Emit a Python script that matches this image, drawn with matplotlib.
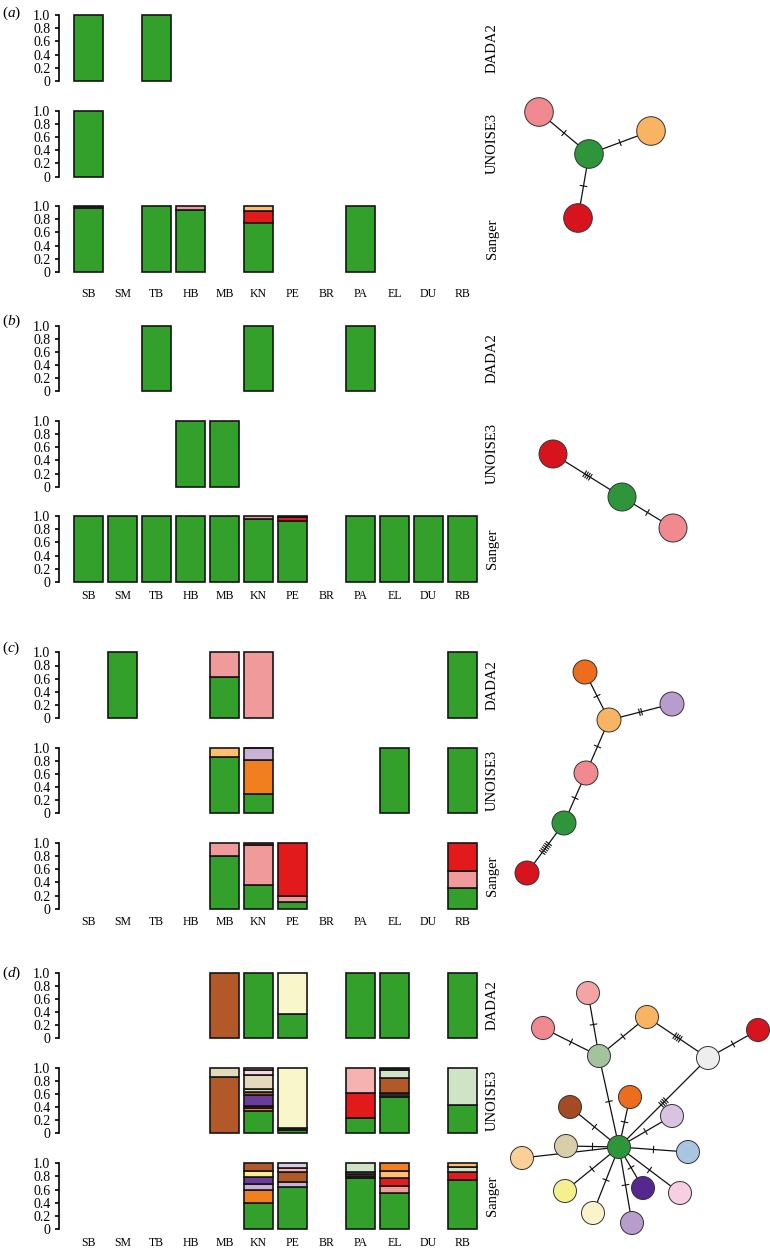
import numpy as np
import matplotlib
matplotlib.use('Agg')
import matplotlib.pyplot as plt
from matplotlib.patches import Circle

plt.rcParams['font.family'] = ['Liberation Serif', 'DejaVu Serif']
plt.rcParams['mathtext.fontset'] = 'custom'
plt.rcParams['mathtext.rm'] = 'Liberation Serif'
plt.rcParams['mathtext.it'] = 'Liberation Serif:italic'

# ---------------- data ----------------
sites = ['SB', 'SM', 'TB', 'HB', 'MB', 'KN', 'PE', 'BR', 'PA', 'EL', 'DU', 'RB']
methods = ['DADA2', 'UNOISE3', 'Sanger']
yticks = [0, 0.2, 0.4, 0.6, 0.8, 1.0]
ytick_labels = ['0', '0.2', '0.4', '0.6', '0.8', '1.0']
panel_letters = ['a', 'b', 'c', 'd']

colours = {
    'green': '#33a02c', 'pink': '#f19a9b', 'red': '#e31a1c', 'lorange': '#fdbf6f',
    'orange': '#ef7f1f', 'lpurple': '#cab2d6', 'purple': '#6a3d9a', 'brown': '#b15928',
    'beige': '#e3d9bd', 'lyellow': '#faf6cc', 'lgreen': '#cfe4c6', 'lpink': '#f8d3e6',
    'salmon': '#f6b2b0', 'darkred': '#7f0000', 'lblue': '#a6cee3', 'yellow': '#f7ee93',
    'lavender': '#dccbe4', 'dark': '#2a2a2a',
}

# stacked segments per site: (fraction, colour key), bottom to top
a_dada2 = {'SB': [(1.0, 'green')], 'TB': [(1.0, 'green')]}
a_unoise3 = {'SB': [(1.0, 'green')]}
a_sanger = {'SB': [(0.97, 'green'), (0.03, 'dark')],
            'TB': [(1.0, 'green')],
            'HB': [(0.94, 'green'), (0.06, 'pink')],
            'KN': [(0.75, 'green'), (0.18, 'red'), (0.07, 'lorange')],
            'PA': [(1.0, 'green')]}

b_dada2 = {'TB': [(1.0, 'green')], 'KN': [(1.0, 'green')], 'PA': [(1.0, 'green')]}
b_unoise3 = {'HB': [(1.0, 'green')], 'MB': [(1.0, 'green')]}
b_sanger = {'SB': [(1.0, 'green')], 'SM': [(1.0, 'green')], 'TB': [(1.0, 'green')],
            'HB': [(1.0, 'green')], 'MB': [(1.0, 'green')],
            'KN': [(0.96, 'green'), (0.04, 'pink')],
            'PE': [(0.92, 'green'), (0.065, 'red'), (0.015, 'pink')],
            'PA': [(1.0, 'green')], 'EL': [(1.0, 'green')], 'DU': [(1.0, 'green')],
            'RB': [(1.0, 'green')]}

c_dada2 = {'SM': [(1.0, 'green')],
           'MB': [(0.63, 'green'), (0.37, 'pink')],
           'KN': [(1.0, 'pink')],
           'RB': [(1.0, 'green')]}
c_unoise3 = {'MB': [(0.86, 'green'), (0.14, 'lorange')],
             'KN': [(0.30, 'green'), (0.52, 'orange'), (0.17, 'lpurple'), (0.01, 'dark')],
             'EL': [(1.0, 'green')],
             'RB': [(1.0, 'green')]}
c_sanger = {'MB': [(0.80, 'green'), (0.20, 'pink')],
            'KN': [(0.355, 'green'), (0.605, 'pink'), (0.04, 'red')],
            'PE': [(0.10, 'green'), (0.10, 'pink'), (0.80, 'red')],
            'RB': [(0.31, 'green'), (0.27, 'pink'), (0.42, 'red')]}

d_dada2 = {'MB': [(1.0, 'brown')], 'KN': [(1.0, 'green')],
           'PE': [(0.37, 'green'), (0.63, 'lyellow')],
           'PA': [(1.0, 'green')], 'EL': [(1.0, 'green')], 'RB': [(1.0, 'green')]}
d_unoise3 = {'MB': [(0.855, 'brown'), (0.145, 'beige')],
             'KN': [(0.34, 'green'), (0.05, 'orange'), (0.02, 'dark'), (0.17, 'purple'),
                    (0.05, 'brown'), (0.04, 'lgreen'), (0.22, 'beige'), (0.08, 'lpink'),
                    (0.03, 'lavender')],
             'PE': [(0.05, 'green'), (0.03, 'dark'), (0.92, 'lyellow')],
             'PA': [(0.23, 'green'), (0.38, 'red'), (0.39, 'salmon')],
             'EL': [(0.56, 'green'), (0.05, 'dark'), (0.23, 'brown'), (0.13, 'lgreen'),
                    (0.03, 'dark')],
             'RB': [(0.43, 'green'), (0.57, 'lgreen')]}
d_sanger = {'KN': [(0.40, 'green'), (0.19, 'orange'), (0.10, 'lpurple'), (0.10, 'purple'),
                   (0.10, 'yellow'), (0.11, 'brown')],
            'PE': [(0.64, 'green'), (0.07, 'lpurple'), (0.15, 'brown'), (0.07, 'salmon'),
                   (0.07, 'lavender')],
            'PA': [(0.78, 'green'), (0.03, 'darkred'), (0.02, 'pink'), (0.03, 'lblue'),
                   (0.14, 'lgreen')],
            'EL': [(0.55, 'green'), (0.11, 'pink'), (0.11, 'red'), (0.11, 'lorange'),
                   (0.12, 'orange')],
            'RB': [(0.74, 'green'), (0.13, 'red'), (0.07, 'lgreen'), (0.06, 'lorange')]}

panel_data = [[a_dada2, a_unoise3, a_sanger],
              [b_dada2, b_unoise3, b_sanger],
              [c_dada2, c_unoise3, c_sanger],
              [d_dada2, d_unoise3, d_sanger]]

# haplotype networks: node -> (x, y, colour) in figure pixels; edges (n1, n2, mutations)
node_colours = {
    'green': '#2e953a', 'pink': '#f08a90', 'lorange': '#f8b462', 'red': '#d7141e',
    'orange': '#ec6d1e', 'lilac': '#b89ccc', 'pinktop': '#f3a4a4', 'sage': '#a2c39c',
    'grey': '#eeeeee', 'brown': '#a24b24', 'lilac2': '#d8c4e2', 'beige': '#dacdaa',
    'lblue': '#a8c6e2', 'peach': '#fccf96', 'yellow': '#f5ef8f', 'purple': '#55288f',
    'lpink': '#f8cee2', 'cream': '#fbf4cb', 'lavender': '#b89ccc',
}
net_a_nodes = {'pink': (539, 112, 'pink'), 'green': (589, 154, 'green'),
               'orange': (651, 131, 'lorange'), 'red': (578, 218, 'red')}
net_a_edges = [('green', 'pink', 1), ('green', 'orange', 1), ('green', 'red', 1)]
net_b_nodes = {'red': (553, 454, 'red'), 'green': (622, 497, 'green'),
               'pink': (673, 528, 'pink')}
net_b_edges = [('red', 'green', 4), ('green', 'pink', 1)]
net_c_nodes = {'orange': (585, 672, 'orange'), 'lorange': (609, 720, 'lorange'),
               'lilac': (672, 704, 'lilac'), 'pink': (586, 773, 'pink'),
               'green': (564, 823, 'green'), 'red': (527, 873, 'red')}
net_c_edges = [('orange', 'lorange', 1), ('lorange', 'lilac', 2), ('lorange', 'pink', 1),
               ('pink', 'green', 1), ('green', 'red', 6)]
net_d_nodes = {'pinktop': (588, 993, 'pinktop'), 'pink': (543, 1028, 'pink'),
               'lorange': (647, 1017, 'lorange'), 'red': (758, 1030, 'red'),
               'sage': (599, 1056, 'sage'), 'grey': (708, 1058, 'grey'),
               'brown': (570, 1107, 'brown'), 'orange': (630, 1097, 'orange'),
               'lilac': (672, 1116, 'lilac2'), 'beige': (566, 1146, 'beige'),
               'green': (619, 1147, 'green'), 'lblue': (688, 1152, 'lblue'),
               'peach': (522, 1158, 'peach'), 'yellow': (565, 1191, 'yellow'),
               'purple': (643, 1188, 'purple'), 'lpink': (680, 1193, 'lpink'),
               'cream': (593, 1213, 'cream'), 'lavender': (632, 1223, 'lavender')}
net_d_edges = [('pinktop', 'sage', 1), ('pink', 'sage', 1), ('sage', 'lorange', 1),
               ('lorange', 'grey', 4), ('grey', 'red', 1), ('sage', 'green', 1),
               ('grey', 'green', 4), ('green', 'brown', 1), ('green', 'orange', 1),
               ('green', 'lilac', 1), ('green', 'beige', 1), ('green', 'peach', 1),
               ('green', 'lblue', 1), ('green', 'yellow', 1), ('green', 'cream', 1),
               ('green', 'purple', 1), ('green', 'lavender', 1), ('green', 'lpink', 1)]
networks = [(net_a_nodes, net_a_edges, 14.3), (net_b_nodes, net_b_edges, 14.0),
            (net_c_nodes, net_c_edges, 12.0), (net_d_nodes, net_d_edges, 11.5)]

# ---------------- layout (pixels) ----------------
W, H = 770, 1249
axes_px = [[(15, 81), (111, 176.5), (206, 272)],
           [(325.7, 391), (421, 486.7), (516, 582)],
           [(652.3, 718.3), (747.7, 813.3), (842.7, 909)],
           [(972.7, 1038.3), (1067.7, 1133.3), (1163.3, 1229)]]
label_pad = [11.5, 5.5, 4.8, 6.0]
letter_y = [13, 321, 648, 973]
ax_left, ax_right = 59, 480
first_center, step = 88.5, 34.0

fig = plt.figure(figsize=(W / 100, H / 100), dpi=100)

xl = ((ax_left - first_center) / step, (ax_right - first_center) / step)

for p in range(4):
    for m in range(3):
        top, bot = axes_px[p][m]
        ax = fig.add_axes([ax_left / W, 1 - bot / H, (ax_right - ax_left) / W, (bot - top) / H])
        ax.set_xlim(*xl)
        ax.set_ylim(0, 1)
        ax.patch.set_visible(False)
        data = panel_data[p][m]
        for i, s in enumerate(sites):
            if s not in data:
                continue
            bottom = 0.0
            for val, ck in data[s]:
                ax.bar(i, val, bottom=bottom, width=0.845, color=colours[ck],
                       edgecolor='#151515', linewidth=1.2, clip_on=False, zorder=2)
                bottom += val
        for sp in ['top', 'right', 'bottom']:
            ax.spines[sp].set_visible(False)
        ax.spines['left'].set_bounds(0, 1)
        ax.spines['left'].set_linewidth(1.2)
        ax.set_yticks(yticks)
        ax.set_yticklabels(ytick_labels, fontsize=10)
        ax.tick_params(axis='y', length=3, width=1.2, pad=3.2)
        if m == 2:
            ax.set_xticks(range(len(sites)))
            ax.set_xticklabels(sites, fontsize=8.5)
            ax.tick_params(axis='x', length=0, pad=label_pad[p])
        else:
            ax.set_xticks([])
        fig.text(492 / W, 1 - (top + bot) / 2 / H, methods[m], rotation=90,
                 ha='center', va='center', fontsize=10.5)
    fig.text(2 / W, 1 - letter_y[p] / H, r'$(%s)$' % panel_letters[p],
             ha='left', va='center', fontsize=11)

# network overlay
nax = fig.add_axes([0, 0, 1, 1])
nax.set_xlim(0, W)
nax.set_ylim(H, 0)
nax.axis('off')
for nodes, edges, r in networks:
    for n1, n2, k in edges:
        x1, y1, _ = nodes[n1]
        x2, y2, _ = nodes[n2]
        nax.plot([x1, x2], [y1, y2], color='#111111', lw=0.9, zorder=1)
        d = np.array([x2 - x1, y2 - y1], dtype=float)
        L = np.hypot(*d)
        u = d / L
        pvec = np.array([-u[1], u[0]])
        mid = np.array([(x1 + x2) / 2, (y1 + y2) / 2])
        offs = (np.arange(k) - (k - 1) / 2) * 2.2
        for o in offs:
            c = mid + u * o
            a = c - pvec * 3.2
            b = c + pvec * 3.2
            nax.plot([a[0], b[0]], [a[1], b[1]], color='#111111', lw=0.8, zorder=1)
    for name, (x, y, ck) in nodes.items():
        nax.add_patch(Circle((x, y), r, facecolor=node_colours[ck], edgecolor='#333333',
                             lw=0.7, zorder=3))

fig.savefig('out.png', dpi=100)
